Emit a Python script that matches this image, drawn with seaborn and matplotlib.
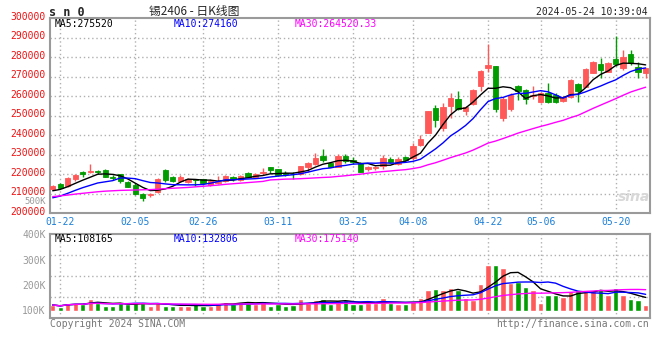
import numpy as np
import pandas as pd
import matplotlib
matplotlib.use("Agg")
import matplotlib.pyplot as plt
import matplotlib.transforms as mtransforms
import seaborn as sns

# daily K-line data for sn2406, 2024-01-19 .. 2024-05-24 (80 trading days)
opens = [212200, 215100, 213900, 217700, 221100, 221100, 221500, 222100, 218700, 219900,
         216100, 214400, 209700, 209300, 210800, 222100, 218500, 216700, 216100, 217300,
         217500, 214400, 215600, 216500, 218400, 217000, 220400, 218400, 220800, 223500,
         222500, 220400, 220300, 220100, 223800, 225200, 229500, 225600, 223800, 229300,
         227300, 225500, 222800, 223200, 224200, 227600, 225200, 229000, 228100, 235000,
         241300, 253800, 243500, 255100, 258400, 252600, 255800, 265400, 274600, 275500,
         249000, 253300, 265200, 263200, 260100, 257200, 261500, 260600, 257500, 259800,
         266100, 264900, 272100, 276400, 272600, 279000, 274600, 281600, 274800, 272100]
highs = [214600, 215500, 218400, 220100, 221500, 225200, 222100, 222500, 219700, 220300,
         216500, 215300, 210200, 210500, 217900, 222600, 219100, 219400, 218000, 217700,
         217700, 217500, 219100, 219400, 219200, 219400, 221300, 220400, 223000, 223800,
         222800, 221600, 221100, 224200, 226400, 230900, 232900, 225900, 230200, 230500,
         228600, 226200, 224400, 224200, 229800, 228600, 229000, 229500, 236200, 240100,
         252600, 255500, 256300, 261500, 262800, 255100, 263900, 273400, 286800, 275500,
         259500, 261800, 265600, 263500, 265200, 262400, 266600, 261500, 260200, 268800,
         266600, 274400, 278200, 279400, 277700, 290900, 283600, 283600, 277400, 274600]
lows = [211900, 212700, 213600, 216700, 218700, 220400, 219900, 218400, 217000, 215600,
        213200, 209500, 206400, 208100, 210500, 216100, 215800, 216000, 215300, 213900,
        214600, 214100, 215000, 216100, 216500, 216700, 218400, 217900, 219600, 220800,
        219100, 219100, 217500, 219600, 221300, 224700, 226400, 223500, 223500, 225600,
        225200, 220900, 221800, 222100, 222500, 225600, 224700, 226900, 227300, 234600,
        240900, 244000, 242300, 248600, 252900, 250300, 255300, 262700, 272600, 252100,
        247500, 252500, 258000, 256000, 258600, 256400, 256400, 256400, 257000, 259300,
        257200, 264500, 271800, 269100, 272200, 275700, 273400, 276000, 269100, 269100]
closes = [214100, 213100, 218000, 219400, 220100, 221600, 220900, 218700, 218200, 216500,
          213600, 210000, 207900, 210000, 217500, 217000, 216700, 218400, 217700, 216800,
          215300, 216500, 216100, 219100, 217700, 219100, 218700, 220100, 221000, 222100,
          219600, 219900, 219900, 224200, 225900, 228300, 227300, 223800, 229300, 226900,
          226200, 221300, 223800, 223500, 228100, 226400, 227800, 227300, 234400, 238000,
          252600, 247800, 254600, 259200, 253400, 254600, 263200, 272900, 276200, 253400,
          258500, 260800, 262600, 258800, 260600, 261500, 257200, 257200, 259800, 268300,
          262700, 273800, 277700, 273400, 277200, 276500, 280000, 277200, 272300, 274300]
volumes = [120900, 114300, 130000, 128800, 124800, 144600, 130000, 118300, 118300, 130000,
           123500, 130000, 130000, 117000, 130000, 117000, 117000, 117000, 117000, 126000,
           117000, 117000, 130000, 134000, 126000, 134000, 130000, 123500, 138000, 117000,
           123500, 117000, 120900, 144600, 130000, 140600, 144600, 123500, 140600, 140600,
           123600, 123600, 130000, 130000, 147000, 130000, 123600, 123600, 136700, 149000,
           180000, 184000, 180000, 188000, 180000, 150000, 140700, 205000, 280000, 280000,
           268000, 209000, 211700, 193000, 180000, 130000, 160000, 160000, 154000, 177500,
           180000, 176000, 176000, 184000, 160000, 188000, 160000, 144600, 140700, 121000]

# moving-average values for the first days, before a full window exists
ma5_head = [211500, 212200, 213600, 215300]
ma10_head = [207900, 208800, 210200, 211700, 213100, 214300, 215500, 216100, 216700]
ma30_head = [208500, 208900, 209300, 209800, 210200, 210600, 211000, 211300, 211500, 211700,
             211800, 211900, 212000, 212100, 212300, 212600, 212800, 213000, 213200, 213500,
             213800, 214100, 214400, 214800, 215100, 215400, 215700, 216000, 216300]

tick_idx = [1, 11, 20, 30, 40, 48, 58, 65, 75]
tick_labels = ["01-22", "02-05", "02-26", "03-11", "03-25", "04-08", "04-22", "05-06", "05-20"]

df = pd.DataFrame({"open": opens, "high": highs, "low": lows, "close": closes, "vol": volumes})
df["i"] = np.arange(len(df))
for n, head in ((5, ma5_head), (10, ma10_head), (30, ma30_head)):
    ma = df["close"].rolling(n).mean()
    ma.iloc[:len(head)] = head
    df[f"ma{n}"] = ma
    df[f"vma{n}"] = df["vol"].rolling(n, min_periods=1).mean()

UP = "#ff5858"
DOWN = "#009c00"
colors = np.where(df["close"] >= df["open"], UP, DOWN)

sns.set_style("white")
plt.rcParams["font.family"] = ["DejaVu Sans Mono", "Noto Sans CJK SC"]

fig = plt.figure(figsize=(6.6, 3.6), dpi=100)
ax = fig.add_axes([50 / 660, 1 - 213.2 / 360, 600 / 660, 195 / 360])
axv = fig.add_axes([50 / 660, 1 - 318.3 / 360, 600 / 660, 84 / 360])

grid_kw = dict(color="#b0b0b0", lw=1, ls=(0, (1, 2)), zorder=0)

# main panel: candles
for y in range(210000, 300000, 10000):
    ax.axhline(y, **grid_kw)
for t in tick_idx:
    ax.axvline(t, **grid_kw)
ax.vlines(df["i"], df["low"], df["high"], colors=colors, lw=1, zorder=2)
body_low = df[["open", "close"]].min(axis=1)
body_h = (df["close"] - df["open"]).abs()
ax.bar(df["i"], body_h, bottom=body_low, width=0.72, color=colors,
       edgecolor=colors, linewidth=0.6, zorder=3)
sns.lineplot(x=df["i"], y=df["ma5"], ax=ax, color="black", lw=1, zorder=4)
sns.lineplot(x=df["i"], y=df["ma10"], ax=ax, color="#0000ff", lw=1, zorder=4)
sns.lineplot(x=df["i"], y=df["ma30"], ax=ax, color="#ff00ff", lw=1, zorder=4)

ax.set_xlim(-0.36, 79.58)
ax.set_ylim(200000, 300000)
ax.set_yticks(range(200000, 300001, 10000))
ax.set_yticklabels([str(v) for v in range(200000, 300001, 10000)])
ax.set_xticks(tick_idx)
ax.set_xticklabels(tick_labels)
ax.tick_params(axis="y", length=0, pad=3, labelsize=7, labelcolor="#ee1111")
ax.tick_params(axis="x", length=0, pad=3, labelsize=7, labelcolor="#1a7fd8")
ax.set_xlabel("")
ax.set_ylabel("")
lift = mtransforms.ScaledTranslation(0, 2.5 / 100, fig.dpi_scale_trans)
for lab in ax.get_yticklabels():
    lab.set_transform(lab.get_transform() + lift)

# volume panel
for f in (0.25, 0.5, 0.75):
    axv.plot([0, 1], [f, f], transform=axv.transAxes, **grid_kw)
for t in tick_idx:
    axv.axvline(t, **grid_kw)
VOL_BASE = 97000
axv.bar(df["i"], df["vol"] - VOL_BASE, bottom=VOL_BASE, width=0.72, color=colors, zorder=2)
sns.lineplot(x=df["i"], y=df["vma5"], ax=axv, color="black", lw=1, zorder=4)
sns.lineplot(x=df["i"], y=df["vma10"], ax=axv, color="#0000ff", lw=1, zorder=4)
sns.lineplot(x=df["i"], y=df["vma30"], ax=axv, color="#ff00ff", lw=1, zorder=4)
axv.set_xlim(-0.36, 79.58)
axv.set_ylim(68400, 400000)
axv.set_yticks([100000, 200000, 300000, 400000])
axv.set_yticklabels(["100K", "200K", "300K", "400K"])
axv.set_xticks([])
axv.tick_params(axis="y", length=0, pad=3, labelsize=7, labelcolor="#999999")
axv.set_xlabel("")
axv.set_ylabel("")

for a in (ax, axv):
    for s in a.spines.values():
        s.set_color("#9a9a9a")
        s.set_linewidth(1.5)

# header texts
def ftxt(x, y, s, **kw):
    fig.text(x / 660, 1 - y / 360, s, va="center", **kw)

ftxt(49, 12, "s n 0", fontsize=8.5, weight="bold")
ftxt(194, 11, "锡2406 - 日K线图", fontsize=8.5, ha="center",
     family=["Noto Sans CJK SC", "DejaVu Sans"])
ftxt(648, 12, "2024-05-24 10:39:04", fontsize=7, ha="right")
ftxt(55, 24, "MA5:275520", fontsize=7, color="black")
ftxt(174, 24, "MA10:274160", fontsize=7, color="#0000ff")
ftxt(295, 24, "MA30:264520.33", fontsize=7, color="#ff00ff")
ftxt(55, 239, "MA5:108165", fontsize=7, color="black")
ftxt(174, 239, "MA10:132806", fontsize=7, color="#0000ff")
ftxt(295, 239, "MA30:175140", fontsize=7, color="#ff00ff")
ftxt(46, 201, "500K", fontsize=6.5, color="#999999", ha="right")
ftxt(50, 324, "Copyright 2024 SINA.COM", fontsize=7, color="#777777")
ftxt(649, 324, "http://finance.sina.com.cn", fontsize=7, color="#777777", ha="right")
ftxt(634, 197, "sina", fontsize=10, color="#d8d8d8", ha="center",
     weight="bold", style="italic", family="DejaVu Sans")

fig.savefig("out.png", dpi=100, facecolor="white")
